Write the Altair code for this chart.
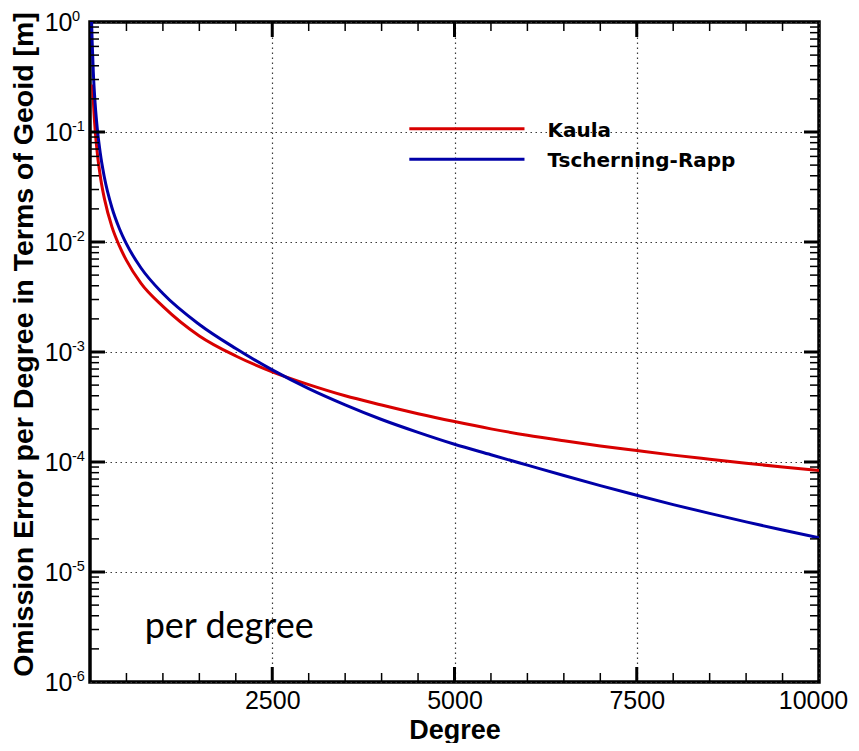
import altair as alt
import pandas as pd

# ---- data ----
series_names = ["Kaula", "Tscherning-Rapp"]
series_colors = ["#d80000", "#0000a8"]

kaula_degree = [36, 50, 70, 100, 150, 200, 300, 400, 500, 700, 1000, 1500, 2000, 2500,
                3000, 3500, 4000, 4500, 5000, 5500, 6000, 6500, 7000, 7500, 8000, 8500,
                9000, 9500, 10000]
kaula_value = [0.27, 0.17, 0.106, 0.0644, 0.0365, 0.0244, 0.0138, 0.0093, 0.0068, 0.0042,
               0.0026, 0.0014, 0.00092, 0.00066, 0.000505, 0.0004, 0.00033, 0.000275,
               0.000233, 0.0002, 0.000175, 0.000156, 0.00014, 0.000127, 0.0001155,
               0.000106, 0.0000975, 0.00009, 0.0000835]

tr_degree = [22, 30, 45, 70, 100, 140, 195, 300, 400, 500, 700, 1000, 1500, 2000, 2500,
             3000, 3500, 4000, 4500, 5000, 5500, 6000, 6500, 7000, 7500, 8000, 8500,
             9000, 9500, 10000]
tr_value = [1.0, 0.65, 0.355, 0.183, 0.107, 0.0648, 0.0394, 0.0206, 0.0134, 0.0096,
            0.0058, 0.0034, 0.00178, 0.001075, 0.000688, 0.000465, 0.000331, 0.0002435,
            0.000186, 0.000145, 0.0001164, 0.0000936, 0.0000753, 0.000061, 0.0000498,
            0.000041, 0.0000341, 0.00002855, 0.0000241, 0.0000205]

x_label_values = [2500, 5000, 7500, 10000]
x_major_ticks = [2500, 5000, 7500]
x_minor_ticks = [500, 1000, 1500, 2000, 3000, 3500, 4000, 4500, 5500, 6000, 6500,
                 7000, 8000, 8500, 9000, 9500]
y_label_values = [1e-6, 1e-5, 1e-4, 1e-3, 1e-2, 1e-1, 1.0]
y_exponent_labels = ["-6", "-5", "-4", "-3", "-2", "-1", "0"]
y_major_ticks = [1e-5, 1e-4, 1e-3, 1e-2, 1e-1]
y_minor_ticks = [k * 10.0 ** e for e in range(-6, 0) for k in range(2, 10)]

legend_x_start = [4380, 4380]
legend_x_end = [5960, 5960]
legend_label_x = [6276, 6276]
legend_y = [0.107, 0.0565]

note_text = ["per degree"]
note_x = [750]
note_y = [2.5e-6]

# ---- tables (all layers share the field names "degree" and "value") ----
df = pd.concat([
    pd.DataFrame({"degree": kaula_degree, "value": kaula_value, "series": series_names[0]}),
    pd.DataFrame({"degree": tr_degree, "value": tr_value, "series": series_names[1]}),
], ignore_index=True)
legend_df = pd.DataFrame({"series": series_names, "degree": legend_x_start,
                          "x1": legend_x_end, "value": legend_y})
legend_lab_df = pd.DataFrame({"series": series_names, "degree": legend_label_x,
                              "value": legend_y})
note_df = pd.DataFrame({"text": note_text, "degree": note_x, "value": note_y})
exp_df = pd.DataFrame({"value": y_label_values, "e": y_exponent_labels})

W, H = 729, 660
xscale = alt.Scale(domain=[0, 10000], nice=False, zero=False)
yscale = alt.Scale(type="log", domain=[1e-6, 1], nice=False)
cscale = alt.Scale(domain=series_names, range=series_colors)

LABEL_FONT = "Liberation Sans"
grid_style = dict(grid=True, gridColor="#3a3a3a", gridDash=[1.5, 3.5], gridWidth=1.2)

X = alt.X("degree:Q", scale=xscale)
Y = alt.Y("value:Q", scale=yscale)

lines = alt.Chart(df).mark_line(strokeWidth=3, clip=True, interpolate="monotone").encode(
    x=alt.X("degree:Q", scale=xscale, axis=alt.Axis(
        orient="bottom", values=x_label_values, format="d", ticks=False, domain=False,
        labelFont=LABEL_FONT, labelFontSize=25, labelColor="black", labelPadding=6,
        labelFlush=False,
        labelOffset={"condition": {"test": "datum.value === 10000", "value": -6}, "value": 0},
        title="Degree", titleFont=LABEL_FONT, titleFontSize=27, titleFontWeight="bold",
        titleColor="black", titleY=56, titleBaseline="alphabetic", **grid_style)),
    y=alt.Y("value:Q", scale=yscale, axis=alt.Axis(
        orient="left", values=y_label_values, labelExpr="'10'", ticks=False, domain=False,
        labelFont=LABEL_FONT, labelFontSize=25, labelColor="black", labelPadding=18,
        labelFlush=False,
        title="Omission Error per Degree in Terms of Geoid [m]", titleFont=LABEL_FONT,
        titleFontSize=28.5, titleFontWeight="bold", titleColor="black", titleAngle=270,
        titleX=-58, titleY=322, titleAlign="center", titleBaseline="alphabetic",
        **grid_style)),
    color=alt.Color("series:N", scale=cscale, legend=None),
)

# superscript exponents of the y labels
exps = alt.Chart(exp_df).mark_text(
    align="left", baseline="middle", font=LABEL_FONT, fontSize=14.5, dy=-5, color="black"
).encode(y=Y, x=alt.value(-18), text="e:N")


# inward tick marks on all four sides of the frame
def x_ticks(vals, size, width, top):
    d = pd.DataFrame({"degree": vals})
    y0, y1 = (0, size) if top else (H, H - size)
    return alt.Chart(d).mark_rule(color="black", strokeWidth=width).encode(
        x=X, y=alt.value(y0), y2=alt.value(y1))


def y_ticks(vals, size, width, right):
    d = pd.DataFrame({"value": vals})
    x0, x1 = (W, W - size) if right else (0, size)
    return alt.Chart(d).mark_rule(color="black", strokeWidth=width).encode(
        y=Y, x=alt.value(x0), x2=alt.value(x1))


ticks = [
    x_ticks(x_minor_ticks, 9, 1.5, False), x_ticks(x_major_ticks, 15, 3, False),
    x_ticks(x_minor_ticks, 9, 1.5, True), x_ticks(x_major_ticks, 15, 3, True),
    y_ticks(y_minor_ticks, 9, 1.5, False), y_ticks(y_major_ticks, 15, 3, False),
    y_ticks(y_minor_ticks, 9, 1.5, True), y_ticks(y_major_ticks, 15, 3, True),
]

legend_rules = alt.Chart(legend_df).mark_rule(strokeWidth=3).encode(
    x=X, x2="x1:Q", y=Y,
    color=alt.Color("series:N", scale=cscale, legend=None),
)
legend_text = alt.Chart(legend_lab_df).mark_text(
    align="left", baseline="middle", font="DejaVu Sans", fontWeight="bold", fontSize=20,
    dy=2, color="black").encode(x=X, y=Y, text="series:N")
note = alt.Chart(note_df).mark_text(
    align="left", baseline="alphabetic", font="Lato", fontSize=36, color="black").encode(
    x=X, y=Y, text="text:N")

chart = alt.layer(lines, *ticks, exps, legend_rules, legend_text, note).properties(
    width=W, height=H,
    autosize=alt.AutoSizeParams(type="none"),
    padding={"left": 82, "top": 14, "right": 32, "bottom": 61},
    background="white",
).configure_view(stroke="black", strokeWidth=3.5)

chart.save("out.html", embed_options={"renderer": "svg", "actions": False})
